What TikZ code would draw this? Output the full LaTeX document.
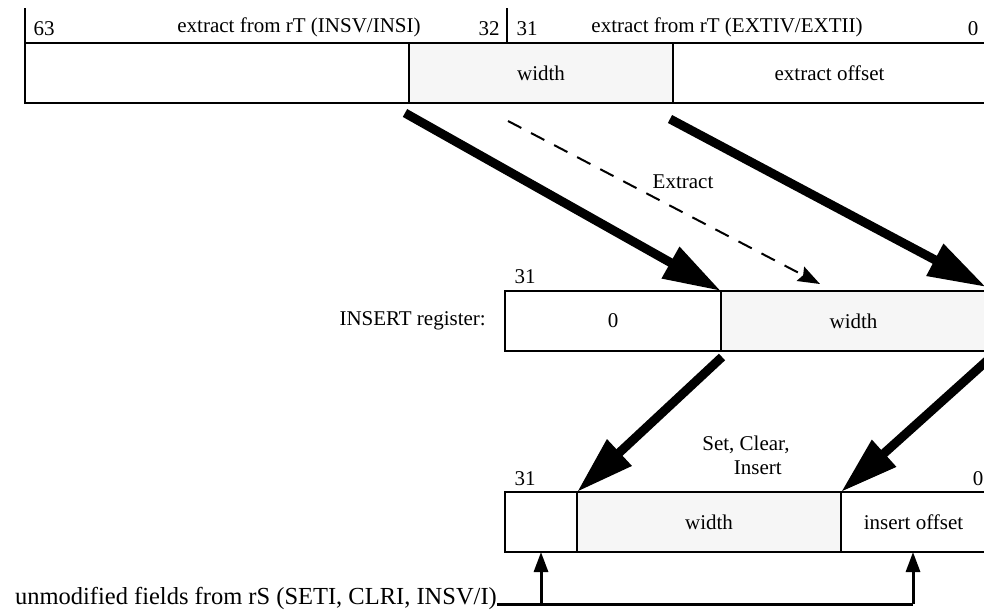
\documentclass[tikz,border=0pt]{standalone}
\usepackage{fontspec}
\setmainfont{Liberation Serif}
\usetikzlibrary{arrows.meta}
\definecolor{fieldgray}{HTML}{F6F6F6}
\tikzset{
  txt/.style={font=\fontsize{21}{24}\selectfont},
  field/.style={txt, draw=black, line width=1.3pt, inner sep=0pt, outer sep=0pt,
                anchor=north west, minimum height=60pt},
  shaded/.style={fill=fieldgray},
  lbl/.style={txt, inner sep=0pt},
  tick/.style={line width=1.1pt},
  bigarrow/.style={line width=9pt, -{Triangle[length=58pt,width=34pt]}},
  dasharrow/.style={line width=2pt, dash pattern=on 15pt off 11pt,
                    -{Stealth[length=22pt,width=16pt,inset=3pt]}},
  smallarrow/.style={line width=3pt, -{Triangle[length=20pt,width=14pt]}},
  feedline/.style={line width=3pt}
}
\begin{document}
\begin{tikzpicture}[x=1pt,y=-1pt]
\useasboundingbox (0,0) rectangle (984,611);
\clip (0,0) rectangle (984,611);

% 64-bit source register rT
\node[field, minimum width=384pt] (t1) at (25,43) {};
\node[field, shaded, minimum width=264pt] (t2) at (409,43) {width};
\node[field, minimum width=313pt] (t3) at (673,43) {extract offset};
\draw[tick] (25,8) -- (25,43);
\draw[tick] (507,8) -- (507,43);
\node[lbl] (n63) at (44,29) {63};
\node[lbl] (hi) at (299,27) {extract from rT (INSV/INSI)};
\node[lbl] (n32) at (489,29) {32};
\node[lbl] (n31a) at (527,29) {31};
\node[lbl] (lo) at (727,27) {extract from rT (EXTIV/EXTII)};
\node[lbl] (n0a) at (973,29) {0};

% INSERT register
\node[field, minimum width=216pt] (i1) at (505,291) {0};
\node[field, shaded, minimum width=265pt] (i2) at (721,291) {width};
\node[lbl, anchor=east] (ireg) at (486,321) {INSERT register:};
\node[lbl] (n31b) at (525,277) {31};

% destination register
\node[field, minimum width=72pt] (b1) at (505,492) {};
\node[field, shaded, minimum width=264pt] (b2) at (577,492) {width};
\node[field, minimum width=145pt] (b3) at (841,492) {insert offset};
\node[lbl] (n31c) at (525,479) {31};
\node[lbl] (n0b) at (978,479) {0};

% extract paths
\coordinate (e1) at (405,113);
\coordinate (e2) at (670,119);
\coordinate (ed) at (508,121);
\coordinate (edt) at (820,284);
\coordinate (e2t) at (986,287);
\draw[bigarrow] (e1) -- (i1.north east);
\draw[bigarrow] (e2) -- (e2t);
\draw[dasharrow] (ed) -- (edt);
\node[lbl] (ext) at (683,182) {Extract};

% set / clear / insert paths
\coordinate (s1) at (722,357);
\coordinate (s2) at (990,358);
\draw[bigarrow] (s1) -- (b1.north east);
\draw[bigarrow] (s2) -- (b2.north east);
\node[lbl, align=left] (sci) at (746,455) {Set, Clear,\\\hspace*{1.5em}Insert};

% unmodified fields
\node[lbl, anchor=east, font=\fontsize{24.5}{28}\selectfont] (unm) at (497,598)
  {unmodified fields from rS (SETI, CLRI, INSV/I)};
\coordinate (f1) at (541,604);
\coordinate (f2) at (913,604);
\draw[feedline] (unm.east |- f1) -- (f2);
\draw[smallarrow] (f1) -- (f1 |- b1.south);
\draw[smallarrow] (f2) -- (f2 |- b3.south);
\end{tikzpicture}
\end{document}
